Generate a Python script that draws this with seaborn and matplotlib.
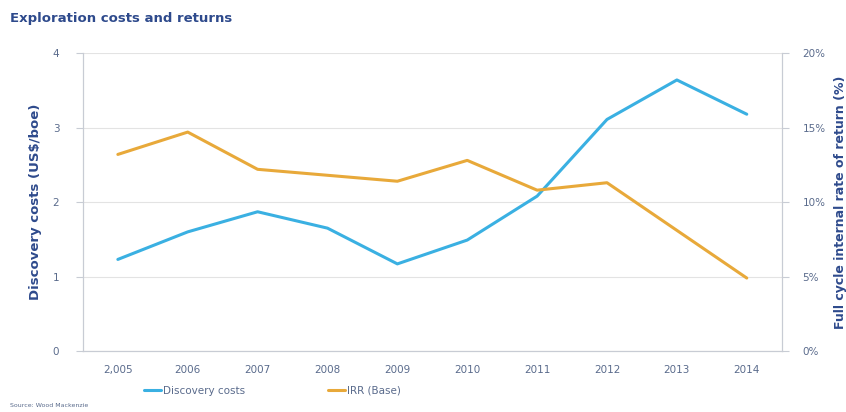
import matplotlib
matplotlib.use("Agg")
import matplotlib.pyplot as plt
import seaborn as sns
import numpy as np
from matplotlib.ticker import FuncFormatter

years = ["2,005", "2006", "2007", "2008", "2009", "2010", "2011", "2012", "2013", "2014"]
discovery_costs = [1.23, 1.60, 1.87, 1.65, 1.17, 1.49, 2.08, 3.11, 3.64, 3.18]
irr_base = [13.2, 14.7, 12.2, 11.8, 11.4, 12.8, 10.8, 11.3, 8.1, 4.9]

navy = "#2E4A8C"
tickc = "#5A6B8C"
blue = "#3AB0E2"
orange = "#E8A93A"
gridc = "#E3E3E3"
spinec = "#C8CCD4"

sns.set_style("white")
fig = plt.figure(figsize=(8.46, 4.12), dpi=100)
ax = fig.add_axes([0.098, 0.148, 0.826, 0.723])
ax2 = ax.twinx()

x = np.arange(len(years))
sns.lineplot(x=x, y=discovery_costs, ax=ax, color=blue, linewidth=2.2, label="Discovery costs", legend=False)
sns.lineplot(x=x, y=irr_base, ax=ax2, color=orange, linewidth=2.2, label="IRR (Base)", legend=False)

ax.set_xlim(-0.5, len(years) - 0.5)
ax.set_ylim(0, 4)
ax2.set_ylim(0, 20)
ax.set_yticks([0, 1, 2, 3, 4])
ax2.set_yticks([0, 5, 10, 15, 20])
ax2.yaxis.set_major_formatter(FuncFormatter(lambda v, p: f"{int(v)}%"))
ax.set_xticks(x)
ax.set_xticklabels(years)
ax.set_xticks(np.arange(-0.5, len(years)), minor=True)
ax.tick_params(axis="x", which="major", length=0, pad=10, labelsize=7.5, labelcolor=tickc)
ax.tick_params(axis="x", which="minor", length=4, color=spinec)
ax.tick_params(axis="y", length=5, color=spinec, labelsize=7.5, labelcolor=tickc, pad=12)
ax2.tick_params(axis="y", length=5, color=spinec, labelsize=7.5, labelcolor=tickc, pad=10)

ax.yaxis.grid(True, color=gridc, linewidth=0.8)
ax.set_axisbelow(True)
for sp in ["top"]:
    ax.spines[sp].set_visible(False)
    ax2.spines[sp].set_visible(False)
for a in (ax, ax2):
    for sp in ["left", "right", "bottom"]:
        a.spines[sp].set_color(spinec)
        a.spines[sp].set_linewidth(0.8)

ax.set_ylabel("Discovery costs (US$/boe)", color=navy, fontsize=9.5, fontweight="bold", labelpad=8)
ax2.set_ylabel("Full cycle internal rate of return (%)", color=navy, fontsize=9, fontweight="bold", labelpad=6)

fig.text(0.012, 0.955, "Exploration costs and returns", color=navy, fontsize=9.5, fontweight="bold", ha="left", va="center")
fig.text(0.012, 0.01, "Source: Wood Mackenzie", color=tickc, fontsize=4.5, ha="left", va="bottom")

h1, l1 = ax.get_legend_handles_labels()
h2, l2 = ax2.get_legend_handles_labels()
fig.legend(h1 + h2, l1 + l2, loc="center", bbox_to_anchor=(0.322, 0.052), ncol=2, frameon=False,
           fontsize=7.5, labelcolor=tickc, columnspacing=8.0, handlelength=1.6, handletextpad=0.2)

fig.savefig("out.png", dpi=100)
